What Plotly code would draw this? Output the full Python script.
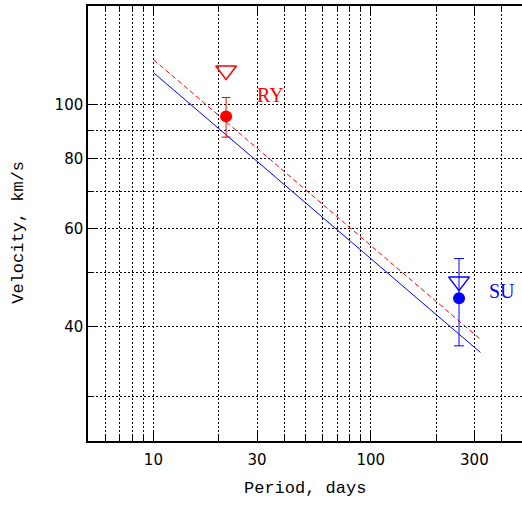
import math
import plotly.graph_objects as go

# ---- data ----
line_period = [10, 320]
fit_blue = [114.0, 36.0]
fit_red = [120.3, 38.0]

ry_period = [21.6]
ry_vel = [95.2]
ry_err_plus = [7.7]
ry_err_minus = [7.8]
ry_upper = [115.0]

su_period = [255]
su_vel = [45.0]
su_err_plus = [8.0]
su_err_minus = [8.0]
su_upper = [48.2]

x_tickvals = [10, 30, 100, 300]
x_ticktext = ["10", "30", "100", "300"]
x_minor = [6, 7, 8, 9, 20, 40, 50, 60, 70, 80, 90, 200, 400]
y_tickvals = [40, 60, 80, 100]
y_ticktext = ["40", "60", "80", "100"]
y_minor = [30, 50, 70, 90]

RED = "#ff0000"
BLUE = "#0000ff"
MONO = "Liberation Mono, Courier New, monospace"
SERIF = "Liberation Serif, Times New Roman, serif"

fig = go.Figure()

fig.add_trace(go.Scatter(x=line_period, y=fit_red, mode="lines",
                         line=dict(color=RED, width=1, dash="5px,3px"),
                         showlegend=False, hoverinfo="skip"))
fig.add_trace(go.Scatter(x=line_period, y=fit_blue, mode="lines",
                         line=dict(color=BLUE, width=1),
                         showlegend=False, hoverinfo="skip"))

fig.add_trace(go.Scatter(x=ry_period, y=ry_upper, mode="markers",
                         marker=dict(symbol="triangle-down-open", size=18,
                                     color=RED, line=dict(color=RED, width=1.5)),
                         showlegend=False))
fig.add_trace(go.Scatter(x=ry_period, y=ry_vel, mode="markers",
                         marker=dict(symbol="circle", size=12, color=RED),
                         error_y=dict(type="data", symmetric=False,
                                      array=ry_err_plus, arrayminus=ry_err_minus,
                                      color=RED, thickness=1, width=4.5),
                         showlegend=False))

fig.add_trace(go.Scatter(x=su_period, y=su_upper, mode="markers",
                         marker=dict(symbol="triangle-down-open", size=18,
                                     color=BLUE, line=dict(color=BLUE, width=1.5)),
                         showlegend=False))
fig.add_trace(go.Scatter(x=su_period, y=su_vel, mode="markers",
                         marker=dict(symbol="circle", size=12, color=BLUE),
                         error_y=dict(type="data", symmetric=False,
                                      array=su_err_plus, arrayminus=su_err_minus,
                                      color=BLUE, thickness=1, width=5),
                         showlegend=False))

grid_common = dict(showgrid=True, gridcolor="#000000", gridwidth=1, griddash="2px,2px")

fig.update_xaxes(type="log", range=[0.69897, 2.6964],
                 tickmode="array", tickvals=x_tickvals, ticktext=x_ticktext,
                 ticks="inside", ticklen=9, tickcolor="black", tickwidth=1,
                 showline=True, linecolor="black", linewidth=1.5, mirror="allticks",
                 zeroline=False, ticklabelstandoff=4,
                 tickfont=dict(family="DejaVu Sans", size=15, color="black"),
                 minor=dict(tickmode="array", tickvals=x_minor, ticks="inside",
                            ticklen=5, tickcolor="black", **grid_common),
                 **grid_common)
fig.update_yaxes(type="log", range=[1.39794, 2.17609],
                 tickmode="array", tickvals=y_tickvals, ticktext=y_ticktext,
                 ticks="inside", ticklen=9, tickcolor="black", tickwidth=1,
                 showline=True, linecolor="black", linewidth=1.5,
                 zeroline=False,
                 tickfont=dict(family="DejaVu Sans", size=15, color="black"),
                 minor=dict(tickmode="array", tickvals=y_minor, ticks="inside",
                            ticklen=5, tickcolor="black", **grid_common),
                 **grid_common)

# labels next to the points (annotation coords on log axes are log10 values)
fig.add_annotation(x=math.log10(ry_period[0]), y=math.log10(ry_vel[0]),
                   xref="x", yref="y", text="RY", showarrow=False,
                   xshift=44.5, yshift=21.7,
                   font=dict(family=SERIF, size=20, color=RED))
fig.add_annotation(x=math.log10(su_period[0]), y=math.log10(su_vel[0]),
                   xref="x", yref="y", text="SU", showarrow=False,
                   xshift=42.7, yshift=7.8,
                   font=dict(family=SERIF, size=20, color=BLUE))

fig.add_annotation(x=0.5, y=-0.11, xref="paper", yref="paper",
                   text="Period, days", showarrow=False, yanchor="middle",
                   font=dict(family=MONO, size=17, color="black"))
fig.add_annotation(x=-0.16, y=0.48, xref="paper", yref="paper",
                   text="Velocity, km/s", showarrow=False, textangle=-90,
                   xanchor="center", yanchor="middle",
                   font=dict(family=MONO, size=17, color="black"))

fig.update_layout(width=522, height=506,
                  margin=dict(l=88, r=0, t=6, b=65),
                  paper_bgcolor="white", plot_bgcolor="white",
                  showlegend=False)

fig.write_html("out.html")
